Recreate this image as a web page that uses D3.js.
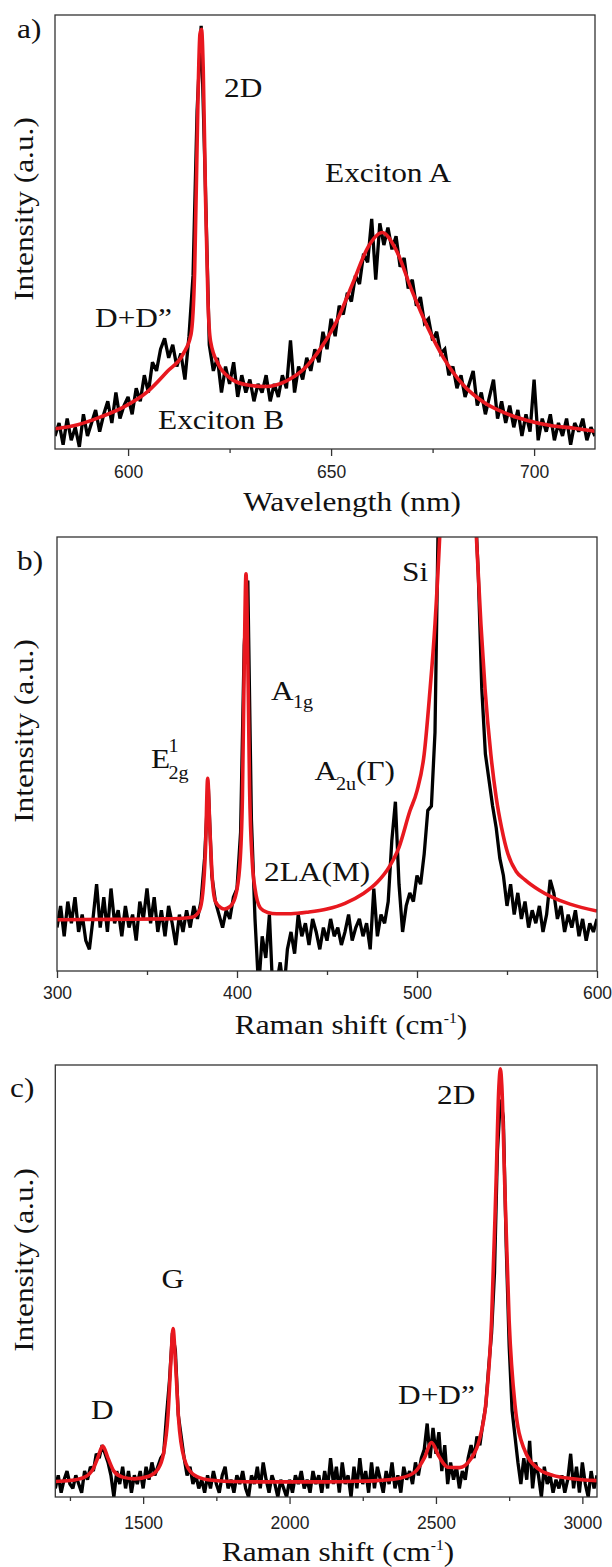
<!DOCTYPE html>
<html><head><meta charset="utf-8">
<script src="https://cdn.jsdelivr.net/npm/d3@7"></script>
<style>body{margin:0;background:#fff}svg{display:block}</style>
</head><body>
<svg id="fig" width="612" height="1567"></svg>
<script>
// ---------------- DATA ----------------
// Panel a: PL spectrum (wavelength grid in nm, 1 nm steps)
const aWavelength = d3.range(582, 716, 1);
const aMeasured = [3,6,1,7,2,5,0.5,8,3,6,9,4,8,11,6,13,7,10,12,8,14,11,17,13,20,18,23,25.5,21,24,19,22,16,26,40,78,97.5,62,24,18,21,13,19,15,20,12,17,13,16,11,15,13,17,11,15,12,17,14,25,13,19,16,21,18,23,20,27,23,30,26,33,31,36,34,40,38,45,43,53,39,52,47,51,46,49,42,44,37,39,33,35,29,30,25,27,22,23,17,19,14,17,12,15,18,10,13,8,12,16,7,11,6,10,5,9,3,8,4,16,2,7,4,8,2,6,3,7,1,6,4,7,2,5,3];
const aFitX = [582,587.6,593.3,599,604.8,609.7,613.5,615.5,616.4,617.2,617.7,618.1,618.5,619.1,619.7,620.3,622.3,625.2,629.1,633.9,638.8,643.6,647.5,651.4,655.3,659.2,662.6,666.0,669.9,673.8,677.7,682.5,687.4,692.3,698.1,704,709.8,715];
const aFitY = [4.65,5.6,7.4,9.7,13.2,17.9,21.8,26.4,41,80,95.6,96.7,87.9,56.8,33.4,24.9,19.4,16.3,14.8,14.4,15.6,18.7,23.3,29.5,38.1,46.7,49.9,45.9,36.5,28,21,14.8,10.9,8.5,6.6,5.4,4.8,4.1];
const aMajorTicks = [600,650,700];
const aMinorTicks = [625,675];

// Panel b: Raman spectrum, MoS2 region (2 cm-1 steps)
const bShift = d3.range(300, 601, 2);
const bMeasured = [10,15,8,16,11,17,9,13,7,5,12,20,10,17,9,19,11,14,8,15,10,13,7,16,12,19,11,17,9,14,8,15,11,6,13,9,14,10,15,12,16,26,43,22,16,13,10,14,12,17,19,32,75,90,35,12,-4,8,3,13,-6,-3,2,-5,5,9,4,13,8,11,6,12,9,5,10,7,12,8,10,6,9,13,7,10,12,8,11,5,19,8,13,11,16,30,39,20,9,15,18,16,22,20,27,37,38,55,110,150,200,220,230,230,220,200,170,140,110,92,65,50,44,38,33,26,22,15,20,13,18,12,16,10,14,11,15,9,13,21,18,12,15,9,13,10,14,8,12,7,11,9,12];
const bFitX = [300,330,360,375,379,381,382.5,383.7,385,386.5,388,391,393,396,399,401.5,403,404,405,406,407,408.5,410,413,417,422,430,440,450,460,470,478,485,490,496,500,504,507,510,512.6,516,522,528,533,535.5,537.8,541,544,547,550.5,555,560,568,575,585,600];
const bFitY = [11.8,11.9,12.0,12.4,13.8,18,28,44.4,32,20,16,14.6,14.3,14.8,17,24,40,70,91.5,72,42,25,19,14.5,13.5,13.2,13.2,13.6,14.3,15.6,17.8,20.5,24.3,28.5,36.8,41.5,50,63.6,80,100,140,240,140,100,80,65,50,40,33,27,23,21,18.6,17.0,15.4,13.8];
const bMajorTicks = [300,400,500,600];
const bMinorTicks = [350,450,550];

// Panel c: Raman spectrum, graphene region (10 cm-1 steps)
const cShift = d3.range(1200, 3051, 10);
const cMeasured = [2,5,1,4,6,3,2,5,3,1,6,4,7,6,10,9,12,10,8,5,0,6,3,7,2,6,1,5,3,6,2,7,4,8,5,7,9,10,19,27,38,34,19,14,9,5,7,3,5,2,4,1,5,2,6,3,1,5,7,2,4,1,5,3,6,2,0,5,3,7,2,8,4,1,5,3,0,4,2,0,4,1,5,3,6,2,4,1,6,3,5,1,6,2,9,3,7,1,8,3,5,0,7,2,9,3,6,1,8,2,7,4,1,6,3,8,2,5,1,7,4,6,3,8,5,9,11,17,9,16,10,15,6,12,3,8,4,7,2,6,4,9,12,9,14,12,17,21,30,38,52,80,92,88,58,35,20,14,8,3,9,4,13,2,8,5,0,7,3,5,1,4,2,5,1,4,10,2,7,1,8,3,0,6,2,5];
const cFitX = [1200,1250,1300,1330,1345,1362,1380,1400,1430,1470,1520,1550,1570,1585,1595,1602,1611,1621,1640,1670,1720,1800,1900,2000,2100,2200,2300,2380,2430,2460,2485,2510,2540,2580,2620,2650,2670,2690,2705,2715,2720,2725,2735,2750,2770,2800,2850,2900,2960,3050];
const cFitY = [3.6,3.8,4.6,6.6,9.1,11.8,9.0,6.0,4.6,4.2,4.8,6.4,10.2,19.0,31.8,39.0,30.4,18.1,9.0,5.3,4.0,3.6,3.5,3.5,3.5,3.6,3.8,4.4,5.9,9.0,12.6,9.4,6.9,6.8,8.9,13.7,21.4,40.9,72.2,95.1,99.1,95.1,72.2,40.8,21.3,11.3,6.5,5.0,4.3,3.8];
const cMajorTicks = [1500,2000,2500,3000];
const cMinorTicks = [1250,1750,2250,2750];

// ---------------- DRAWING ----------------
const svg = d3.select("#fig");
const RED = "#e8181f";
const SERIF = "'Liberation Serif','Times New Roman',serif";
const SANS = "'Liberation Sans',Arial,sans-serif";
const SX = 1.12;

function serifText(parent, x, y, str, size, anchor, rot) {
  const t = parent.append("text")
    .attr("transform", `translate(${x},${y})` + (rot ? ` rotate(${rot})` : "") + ` scale(${SX},1)`)
    .attr("font-family", SERIF).attr("font-size", size)
    .attr("text-anchor", anchor || "start").attr("fill", "#111");
  if (typeof str === "string") t.text(str);
  else str.forEach(p => t.append("tspan").attr("dy", p.dy || 0).attr("font-size", p.size || size).text(p.t));
  return t;
}

function panel(cfg, idx) {
  const x = d3.scaleLinear().domain(cfg.xDomain).range([cfg.left, cfg.right]);
  const y = d3.scaleLinear().domain([0, 100]).range([cfg.bottom, cfg.top]);
  const g = svg.append("g");
  const cid = "clip" + idx;
  g.append("clipPath").attr("id", cid).append("rect")
    .attr("x", cfg.left).attr("y", cfg.top)
    .attr("width", cfg.right - cfg.left).attr("height", cfg.bottom - cfg.top);

  const line = d3.line().x(d => x(d[0])).y(d => y(d[1]));
  g.append("path").datum(d3.zip(cfg.mx, cfg.my))
    .attr("clip-path", `url(#${cid})`)
    .attr("d", line).attr("fill", "none").attr("stroke", "#000")
    .attr("stroke-width", 3.3).attr("stroke-linejoin", "miter").attr("stroke-miterlimit", 2.5);
  const fit = d3.line().x(d => x(d[0])).y(d => y(d[1])).curve(d3.curveMonotoneX);
  g.append("path").datum(d3.zip(cfg.fx, cfg.fy))
    .attr("clip-path", `url(#${cid})`)
    .attr("d", fit).attr("fill", "none").attr("stroke", RED)
    .attr("stroke-width", 3.6).attr("stroke-linejoin", "round");

  g.append("rect").attr("x", cfg.left).attr("y", cfg.top)
    .attr("width", cfg.right - cfg.left).attr("height", cfg.bottom - cfg.top)
    .attr("fill", "none").attr("stroke", "#333").attr("stroke-width", 1.3);

  const ax = g.append("g").attr("transform", `translate(0,${cfg.bottom})`)
    .call(d3.axisBottom(x).tickValues(cfg.major).tickSize(7).tickSizeOuter(0)
      .tickPadding(cfg.pad).tickFormat(d3.format("d")));
  ax.select(".domain").remove();
  ax.selectAll("line").attr("stroke", "#333").attr("stroke-width", 1.3);
  ax.selectAll("text").attr("font-family", SANS).attr("font-size", 17.5).attr("fill", "#222");
  const mn = g.append("g").attr("transform", `translate(0,${cfg.bottom})`)
    .call(d3.axisBottom(x).tickValues(cfg.minor).tickSize(4).tickSizeOuter(0).tickFormat(""));
  mn.select(".domain").remove();
  mn.selectAll("line").attr("stroke", "#333").attr("stroke-width", 1.3);

  serifText(g, 33, cfg.ytitleY, "Intensity (a.u.)", 28, "middle", -90);
  serifText(g, cfg.xtitleX, cfg.xtitleY, cfg.xtitle, 28, "middle");
  serifText(g, cfg.tagX, cfg.tagY, cfg.tag, 28, "start");
  return g;
}

const gA = panel({left:55, right:595, top:15, bottom:449, xDomain:[582,715],
  mx:aWavelength, my:aMeasured, fx:aFitX, fy:aFitY, major:aMajorTicks, minor:aMinorTicks, pad:10,
  ytitleY:209, xtitleX:352, xtitleY:511, xtitle:"Wavelength (nm)", tag:"a)", tagX:17, tagY:38}, 0);
serifText(gA, 224, 97, "2D", 28);
serifText(gA, 325, 182, "Exciton A", 28);
serifText(gA, 95, 327, "D+D\u201D", 28);
serifText(gA, 158, 429, "Exciton B", 28);

const ramanTitle = [{t:"Raman shift (cm"}, {t:"-1", size:14, dy:-11}, {t:")", size:28, dy:11}];
const gB = panel({left:57, right:597, top:537, bottom:971, xDomain:[300,600],
  mx:bShift, my:bMeasured, fx:bFitX, fy:bFitY, major:bMajorTicks, minor:bMinorTicks, pad:9,
  ytitleY:731, xtitleX:351, xtitleY:1034, xtitle:ramanTitle, tag:"b)", tagX:17, tagY:570}, 1);
serifText(gB, 402, 581, "Si", 28);
serifText(gB, 271, 700, "A", 28);
serifText(gB, 293, 708, "1g", 18);
serifText(gB, 151, 768, "E", 28);
serifText(gB, 168.5, 752, "1", 18);
serifText(gB, 168.5, 779, "2g", 18);
serifText(gB, 314.5, 780, "A", 28);
serifText(gB, 336, 790, "2u", 18);
serifText(gB, 356, 780, "(\u0393)", 28);
serifText(gB, 264, 881, "2LA(M)", 28);

const gC = panel({left:55.3, right:597, top:1065, bottom:1497, xDomain:[1200,3050],
  mx:cShift, my:cMeasured, fx:cFitX, fy:cFitY, major:cMajorTicks, minor:cMinorTicks, pad:13,
  ytitleY:1260, xtitleX:338, xtitleY:1561, xtitle:ramanTitle, tag:"c)", tagX:10, tagY:1097}, 2);
serifText(gC, 437, 1104, "2D", 28);
serifText(gC, 161.5, 1288, "G", 28);
serifText(gC, 91, 1419, "D", 28);
serifText(gC, 398, 1404, "D+D\u201D", 28);
</script>
</body></html>
